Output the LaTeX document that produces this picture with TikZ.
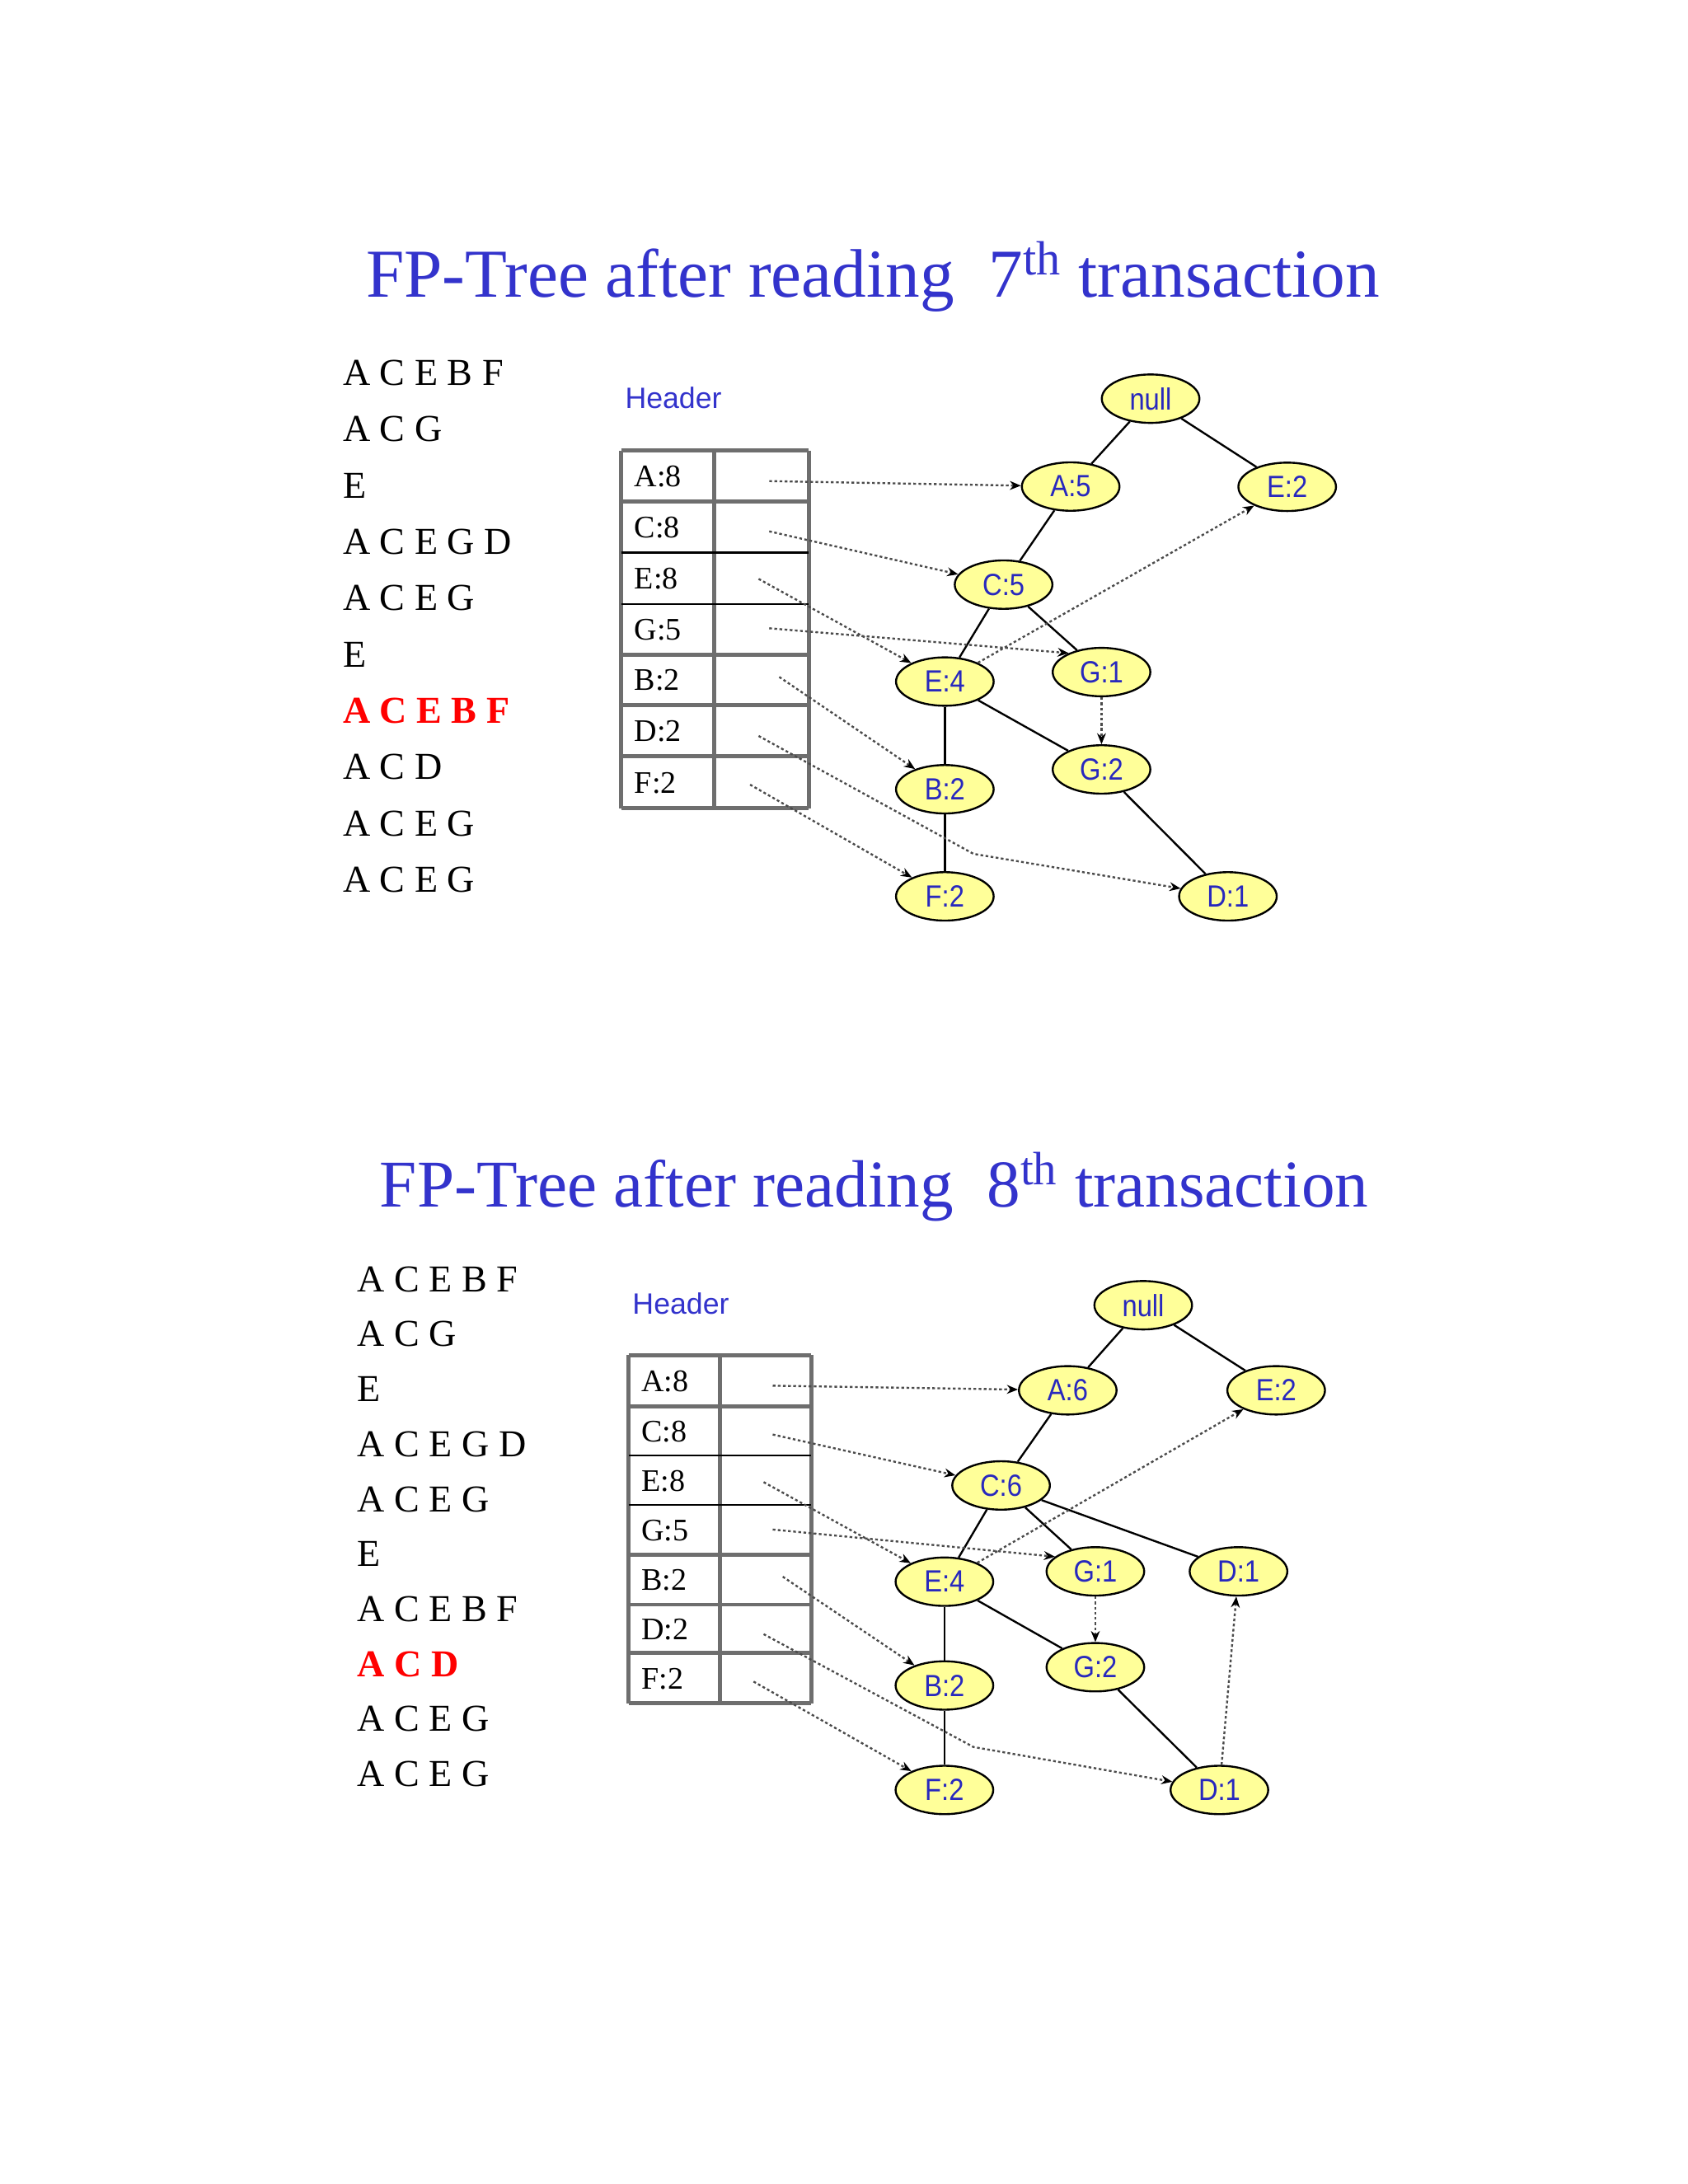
\documentclass[tikz,border=0pt]{standalone}
\usepackage{fontspec}
\setmainfont{Liberation Serif}
\newfontfamily\sansf{Liberation Sans}
\newfontfamily\nodef[FakeStretch=0.88]{Liberation Sans}
\usetikzlibrary{shapes.geometric,arrows.meta}
\definecolor{tblue}{RGB}{51,51,204}
\definecolor{nblue}{RGB}{40,40,190}
\definecolor{nyellow}{RGB}{255,255,153}
\definecolor{tgray}{RGB}{110,110,110}
\definecolor{lgray}{RGB}{75,75,75}
\definecolor{hred}{RGB}{255,0,0}
\tikzset{
  tn/.style={ellipse, draw=black, line width=0.8pt, fill=nyellow, minimum width=1.4cm, minimum height=0.694cm, inner sep=0pt, text=nblue, font=\nodef\fontsize{12.5}{14}\selectfont},
  ed/.style={draw=black, line width=0.8pt},
  lk/.style={draw=lgray, line width=0.8pt, dash pattern=on 1.1pt off 1.0pt, -{Stealth[length=4.5pt,width=3.6pt,color=black]}},
  ttl/.style={anchor=base west, inner sep=0pt, text=tblue, font=\fontsize{28}{32}\selectfont},
  tr/.style={anchor=base west, inner sep=0pt, font=\fontsize{15.5}{18}\selectfont},
  trh/.style={tr, text=hred, font=\fontsize{15.5}{18}\selectfont\bfseries},
  hd/.style={anchor=base west, inner sep=0pt, text=tblue, font=\sansf\fontsize{12}{14}\selectfont},
  tl/.style={anchor=base west, inner sep=0pt, font=\fontsize{12.8}{15}\selectfont},
  tgr/.style={draw=tgray, line width=1.6pt},
  tbk/.style={draw=black, line width=0.9pt}
}
\begin{document}
\begin{tikzpicture}[x=0.02cm,y=-0.02cm]
\fill[white] (0,0) rectangle (1210,1565.7);
\useasboundingbox (0,0) rectangle (1210,1565.7);

% ================= TOP =================
\node[ttl] (title1) at (262,213.1) {FP-Tree after reading\ \ 7\textsuperscript{th} transaction};

\node[tr]  (t1a) at (245.5,276.1) {A C E B F};
\node[tr]  (t1b) at (245.5,316.5) {A C G};
\node[tr]  (t1c) at (245.5,356.9) {E};
\node[tr]  (t1d) at (245.5,397.2) {A C E G D};
\node[tr]  (t1e) at (245.5,437.6) {A C E G};
\node[tr]  (t1f) at (245.5,478.0) {E};
\node[trh] (t1g) at (245.5,518.4) {A C E B F};
\node[tr]  (t1h) at (245.5,558.8) {A C D};
\node[tr]  (t1i) at (245.5,599.1) {A C E G};
\node[tr]  (t1j) at (245.5,639.5) {A C E G};

\node[hd] (h1) at (447.8,292.5) {Header};

% table
\draw[tgr] (445.2,323.1) -- (445.2,579.4);
\draw[tgr] (511.8,323.1) -- (511.8,579.4);
\draw[tgr] (579.8,323.1) -- (579.8,579.4);
\draw[tgr] (445.2,323.1) -- (579.8,323.1);
\draw[tgr] (445.2,359.4) -- (579.8,359.4);
\draw[tbk] (445.2,396.2) -- (579.8,396.2);
\draw[tbk] (445.2,433.0) -- (579.8,433.0);
\draw[tgr] (445.2,469.5) -- (579.8,469.5);
\draw[tgr] (445.2,505.3) -- (579.8,505.3);
\draw[tgr] (445.2,542.1) -- (579.8,542.1);
\draw[tgr] (445.2,579.4) -- (579.8,579.4);
\node[tl] (ha1) at (454.5,349.0) {A:8};
\node[tl] (hc1) at (454.5,385.5) {C:8};
\node[tl] (he1) at (454.5,422.3) {E:8};
\node[tl] (hg1) at (454.5,459.0) {G:5};
\node[tl] (hb1) at (454.5,495.1) {B:2};
\node[tl] (hd1) at (454.5,531.4) {D:2};
\node[tl] (hf1) at (454.5,568.5) {F:2};

% tree nodes
\node[tn] (n1)  at (824.8,285.8) {null};
\node[tn] (a1)  at (767.5,348.8) {A:5};
\node[tn] (e21) at (922.7,349.0) {E:2};
\node[tn] (c1)  at (719.4,419.1) {C:5};
\node[tn] (e41) at (677.3,488.6) {E:4};
\node[tn] (g11) at (789.6,481.8) {G:1};
\node[tn] (g21) at (789.6,551.6) {G:2};
\node[tn] (b1)  at (677.3,565.8) {B:2};
\node[tn] (f1)  at (677.3,642.6) {F:2};
\node[tn] (d1)  at (880.2,642.6) {D:1};

\draw[ed] (n1) -- (a1);
\draw[ed] (n1) -- (e21);
\draw[ed] (a1) -- (c1);
\draw[ed] (c1) -- (e41);
\draw[ed] (c1) -- (g11);
\draw[ed] (e41) -- (g21);
\draw[ed] (e41) -- (b1);
\draw[ed] (b1) -- (f1);
\draw[ed] (g21) -- (d1);

\coordinate (sa1) at (551.4,344.9);
\coordinate (sc1) at (551.4,380.9);
\coordinate (se1) at (543.8,415.0);
\coordinate (sg1) at (551.4,450.4);
\coordinate (sb1) at (558.6,485.3);
\coordinate (sd1) at (543.8,527.6);
\coordinate (bd1) at (697.8,612.1);
\coordinate (sf1) at (537.7,562.5);
\draw[lk] (sa1) -- (a1);
\draw[lk] (sc1) -- (c1);
\draw[lk] (se1) -- (e41);
\draw[lk] (sg1) -- (g11.150);
\draw[lk] (sb1) -- (b1);
\draw[lk] (sd1) -- (bd1) -- (d1);
\draw[lk] (sf1) -- (f1);
\draw[lk] (e41) -- (e21);
\draw[lk] (g11) -- (g21);

% ================= BOTTOM =================
\node[ttl, font=\fontsize{27.3}{31}\selectfont] (title2) at (272,865) {FP-Tree after reading\ \ 8\textsuperscript{th} transaction};

\node[tr]  (t2a) at (256,925.9) {A C E B F};
\node[tr]  (t2b) at (256,965.3) {A C G};
\node[tr]  (t2c) at (256,1004.7) {E};
\node[tr]  (t2d) at (256,1044.2) {A C E G D};
\node[tr]  (t2e) at (256,1083.6) {A C E G};
\node[tr]  (t2f) at (256,1123.0) {E};
\node[tr]  (t2g) at (256,1162.4) {A C E B F};
\node[trh] (t2h) at (256,1201.9) {A C D};
\node[tr]  (t2i) at (256,1241.3) {A C E G};
\node[tr]  (t2j) at (256,1280.7) {A C E G};

\node[hd] (h2) at (453.1,942.3) {Header};

\draw[tgr] (450.6,971.6) -- (450.6,1221.1);
\draw[tgr] (516.1,971.6) -- (516.1,1221.1);
\draw[tgr] (581.6,971.6) -- (581.6,1221.1);
\draw[tgr] (450.6,971.6) -- (581.6,971.6);
\draw[tgr] (450.6,1008.4) -- (581.6,1008.4);
\draw[tbk] (450.6,1043.4) -- (581.6,1043.4);
\draw[tbk] (450.6,1078.8) -- (581.6,1078.8);
\draw[tgr] (450.6,1114.8) -- (581.6,1114.8);
\draw[tgr] (450.6,1150.3) -- (581.6,1150.3);
\draw[tgr] (450.6,1185.1) -- (581.6,1185.1);
\draw[tgr] (450.6,1221.1) -- (581.6,1221.1);
\node[tl] (ha2) at (459.6,997.7) {A:8};
\node[tl] (hc2) at (459.6,1033.6) {C:8};
\node[tl] (he2) at (459.6,1068.8) {E:8};
\node[tl] (hg2) at (459.6,1104.5) {G:5};
\node[tl] (hb2) at (459.6,1140.2) {B:2};
\node[tl] (hd2) at (459.6,1175.4) {D:2};
\node[tl] (hf2) at (459.6,1210.8) {F:2};

\node[tn] (n2)  at (819.5,935.7) {null};
\node[tn] (a2)  at (765.4,996.7) {A:6};
\node[tn] (e22) at (914.8,996.7) {E:2};
\node[tn] (c2)  at (717.6,1064.9) {C:6};
\node[tn] (e42) at (677.0,1133.9) {E:4};
\node[tn] (g12) at (785.2,1126.5) {G:1};
\node[tn] (du2) at (887.8,1126.5) {D:1};
\node[tn] (g22) at (785.2,1195.2) {G:2};
\node[tn] (b2)  at (677.0,1208.3) {B:2};
\node[tn] (f2)  at (677.0,1283.2) {F:2};
\node[tn] (dl2) at (874.1,1283.2) {D:1};

\draw[ed] (n2) -- (a2);
\draw[ed] (n2) -- (e22);
\draw[ed] (a2) -- (c2);
\draw[ed] (c2) -- (e42);
\draw[ed] (c2) -- (g12);
\draw[ed] (c2) -- (du2);
\draw[ed] (e42) -- (g22);
\draw[ed] (e42) -- (b2);
\draw[ed] (b2) -- (f2);
\draw[ed] (g22) -- (dl2);

\coordinate (sa2) at (553.9,993.4);
\coordinate (sc2) at (553.9,1028.4);
\coordinate (se2) at (547.4,1062.5);
\coordinate (sg2) at (553.9,1096.5);
\coordinate (sb2) at (561.1,1130.3);
\coordinate (sd2) at (547.4,1171.5);
\coordinate (bd2) at (697.8,1252.4);
\coordinate (sf2) at (540.2,1205.5);
\draw[lk] (sa2) -- (a2);
\draw[lk] (sc2) -- (c2);
\draw[lk] (se2) -- (e42);
\draw[lk] (sg2) -- (g12.160);
\draw[lk] (sb2) -- (b2);
\draw[lk] (sd2) -- (bd2) -- (dl2);
\draw[lk] (sf2) -- (f2);
\draw[lk] (e42) -- (e22);
\draw[lk] (g12) -- (g22);
\draw[lk] (dl2) -- (du2);
\end{tikzpicture}
\end{document}
